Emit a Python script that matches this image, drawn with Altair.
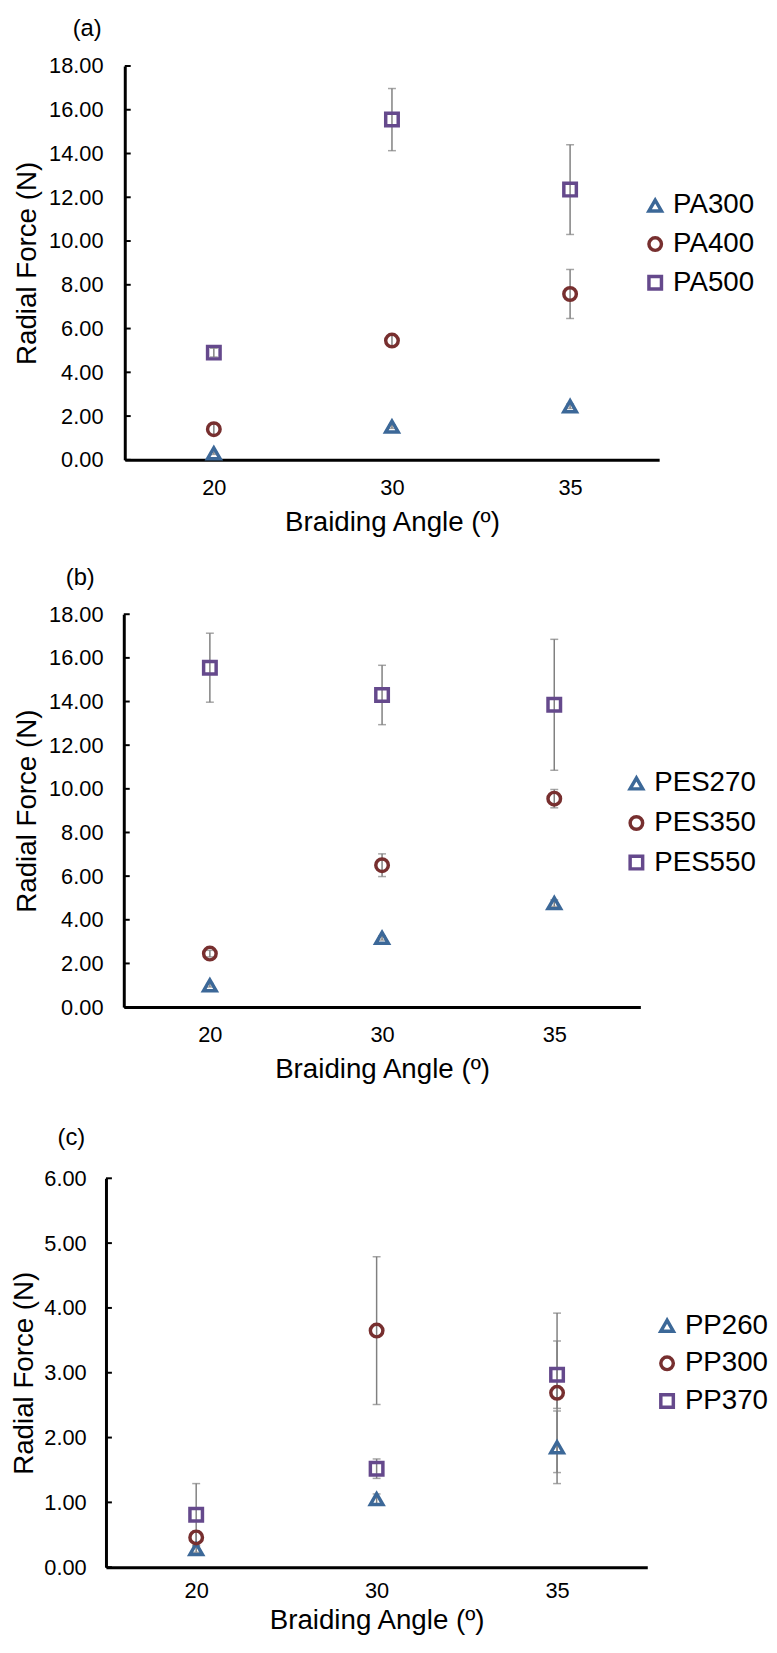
import altair as alt
import pandas as pd

FONT = "Liberation Sans"

angles = ["20", "30", "35"]

colors = ["#3C6898", "#772F2F", "#65498C"]
shapes = ["triangle-up", "circle", "square"]

# Panel (a)
a_series = ["PA300", "PA400", "PA500"]
a_values = [[0.30, 1.52, 2.45], [1.40, 5.45, 7.58], [4.90, 15.55, 12.35]]
a_errors = [[0.05, 0.08, 0.10], [0.25, 0.25, 1.12], [0.20, 1.42, 2.05]]

# Panel (b)
b_series = ["PES270", "PES350", "PES550"]
b_values = [[1.00, 3.17, 4.76], [2.45, 6.50, 9.55], [15.55, 14.30, 13.85]]
b_errors = [[0.08, 0.10, 0.15], [0.15, 0.52, 0.42], [1.58, 1.36, 3.00]]

# Panel (c)
c_series = ["PP260", "PP300", "PP370"]
c_values = [[0.28, 1.05, 1.85], [0.46, 3.65, 2.69], [0.81, 1.52, 2.97]]
c_errors = [[0.05, 0.08, 0.56], [0.10, 1.14, 1.23], [0.48, 0.15, 0.52]]

ab_ticks = [0, 2, 4, 6, 8, 10, 12, 14, 16, 18]
c_ticks = [0, 1, 2, 3, 4, 5, 6]

panel_labels = ["(a)", "(b)", "(c)"]


def panel(label, series, values, errors, ticks, width, height, x0, lx, ly, rowpad,
          lab_x, lab_y, ylabpad, ytitlepad, xlabpad, xtitlepad, top_y):
    rows = []
    for s, vals, errs in zip(series, values, errors):
        for ang, v, e in zip(angles, vals, errs):
            rows.append({"series": s, "angle": ang, "value": v,
                         "lo": v - e, "hi": v + e})
    df = pd.DataFrame(rows)
    tdf = pd.DataFrame({"t": ticks})
    ldf = pd.DataFrame({"label": [label]})

    xaxis = alt.Axis(title="Braiding Angle (º)", labelAngle=0, ticks=False,
                     domainColor="black", domainWidth=3, labelFontSize=22,
                     labelPadding=xlabpad, titleFontSize=28, titlePadding=xtitlepad,
                     labelColor="black", titleColor="black", titleFontWeight="normal",
                     labelFont=FONT, titleFont=FONT)
    yaxis = alt.Axis(title="Radial Force (N)", values=ticks, format=".2f", grid=False,
                     ticks=False, domainColor="black", domainWidth=3, offset=-x0,
                     labelFontSize=22, labelPadding=ylabpad, titleFontSize=28,
                     titlePadding=ytitlepad, labelColor="black", titleColor="black",
                     titleFontWeight="normal", labelFont=FONT, titleFont=FONT)
    xscale = alt.Scale(type="point", padding=0.5, domain=angles, range=[x0, width])
    yscale = alt.Scale(domain=[0, ticks[-1]], nice=False)

    def X():
        return alt.X("angle:N", sort=angles, scale=xscale, axis=xaxis)

    def Y(f):
        return alt.Y(f, scale=yscale, axis=yaxis)

    leg = alt.Legend(title=None, orient="none", legendX=lx, legendY=ly,
                     labelFontSize=28, labelFont=FONT, labelColor="black",
                     symbolStrokeWidth=3.5, symbolSize=160, rowPadding=rowpad,
                     labelOffset=4)

    base = alt.Chart(df)
    bars = base.mark_rule(color="#808080", strokeWidth=1.5).encode(
        x=X(), y=Y("lo:Q"), y2="hi:Q")
    cap_lo = base.mark_tick(color="#808080", thickness=1.5, size=8).encode(
        x=X(), y=Y("lo:Q"))
    cap_hi = base.mark_tick(color="#808080", thickness=1.5, size=8).encode(
        x=X(), y=Y("hi:Q"))
    pts = base.mark_point(filled=False, strokeWidth=3.5, size=160, opacity=1).encode(
        x=X(), y=Y("value:Q"),
        color=alt.Color("series:N", scale=alt.Scale(domain=series, range=colors),
                        legend=leg, sort=series),
        shape=alt.Shape("series:N", scale=alt.Scale(domain=series, range=shapes),
                        legend=leg, sort=series),
    )
    yt = alt.Chart(tdf).mark_rule(color="black", strokeWidth=2).encode(
        y=Y("t:Q"), x=alt.value(x0), x2=alt.value(x0 + 6))
    lab = alt.Chart(ldf).mark_text(fontSize=24, font=FONT, color="black",
                                   align="center", baseline="middle").encode(
        text="label:N", x=alt.value(lab_x), y=alt.value(lab_y))
    layers = [yt, bars, cap_lo, cap_hi, pts, lab]
    if top_y is not None:
        spacer = alt.Chart(ldf).mark_rule(color="white", strokeWidth=1).encode(
            x=alt.value(x0 + 20), x2=alt.value(x0 + 21), y=alt.value(top_y))
        layers = [spacer] + layers
    return alt.layer(*layers).properties(width=width, height=height)


pa = panel(panel_labels[0], a_series, a_values, a_errors, ab_ticks, 559, 398, 19,
           541, 127, 11, -19, -37, 22, 7, 18, 10, None)
pb = panel(panel_labels[1], b_series, b_values, b_errors, ab_ticks, 540, 397, 18,
           522, 157, 12, -26, -37, 21, 7, 18, 10, None)
pc = panel(panel_labels[2], c_series, c_values, c_errors, c_ticks, 547, 393, 0,
           553, 135, 10, -35, -41, 20, 5, 14, 5, -65)

chart = alt.vconcat(pa, pb, pc, spacing=30).resolve_scale(
    color="independent", shape="independent", x="independent", y="independent"
).configure_view(stroke=None).properties(
    padding={"left": 3, "top": 1, "right": 0, "bottom": 0}
)

chart.save("out.html", embed_options={"renderer": "svg", "actions": False})
